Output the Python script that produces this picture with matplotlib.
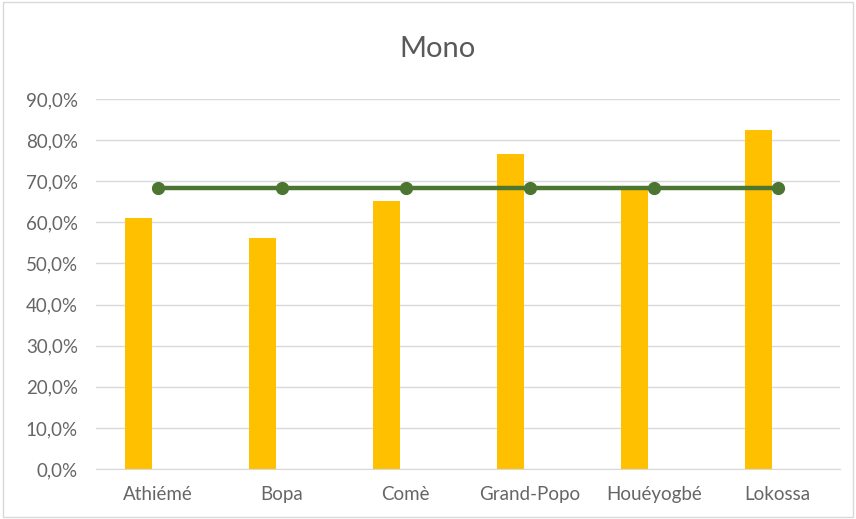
import matplotlib
matplotlib.use('Agg')
import matplotlib.pyplot as plt
from matplotlib.patches import Rectangle
from matplotlib.ticker import FuncFormatter

plt.rcParams['font.family'] = ['Lato', 'DejaVu Sans']

# données
communes = ["Athiémé", "Bopa", "Comè", "Grand-Popo", "Houéyogbé", "Lokossa"]
taux = [0.610, 0.562, 0.653, 0.766, 0.681, 0.825]
moyenne = [0.683, 0.683, 0.683, 0.683, 0.683, 0.683]

fig = plt.figure(figsize=(8.56, 5.19), dpi=100)
ax = fig.add_axes([0.112, 0.0963, 0.869, 0.713])

x = list(range(len(communes)))
ax.bar([i - 0.153 for i in x], taux, width=0.218, color="#FFC000", zorder=2)
ax.plot(x, moyenne, color="#4B7530", linewidth=3.2, marker="o", markersize=8.5, zorder=3)

ax.set_xlim(-0.5, len(communes) - 0.5)
ax.set_ylim(0, 0.9)
ax.set_yticks([i / 10 for i in range(10)])
ax.yaxis.set_major_formatter(FuncFormatter(lambda v, p: f"{v*100:.1f}%".replace(".", ",")))
ax.set_xticks(x)
ax.set_xticklabels(communes)

ax.grid(axis="y", color="#D9D9D9", linewidth=1, zorder=0)
for s in ["top", "right", "left"]:
    ax.spines[s].set_visible(False)
ax.spines["bottom"].set_color("#D9D9D9")
ax.tick_params(axis="both", length=0, colors="#666666", labelsize=13.5)
ax.tick_params(axis="x", pad=12)
ax.tick_params(axis="y", pad=13)

fig.text(0.511, 0.905, "Mono", ha="center", va="center", fontsize=21, color="#595959")

# bordure du graphique
fig.patches.append(Rectangle((0.004, 0.004), 0.992, 0.992, transform=fig.transFigure,
                             fill=False, edgecolor="#D9D9D9", linewidth=1))

fig.savefig("out.png", dpi=100)
